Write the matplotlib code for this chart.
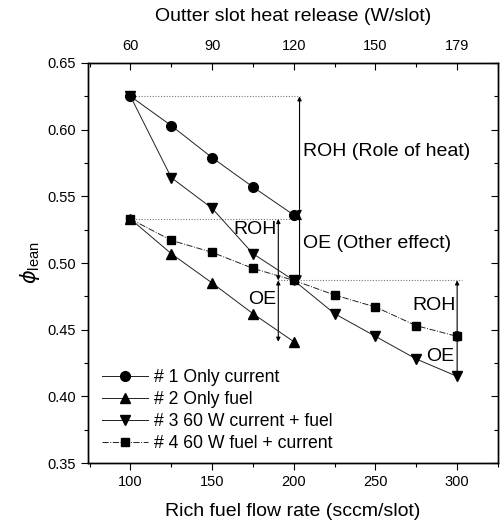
import matplotlib
matplotlib.use("Agg")
import matplotlib.pyplot as plt
from matplotlib.ticker import MultipleLocator, FixedLocator

plt.rcParams['font.family'] = ['Liberation Sans', 'DejaVu Sans']

# Data
fuel_1 = [100, 125, 150, 175, 200]
phi_1 = [0.625, 0.603, 0.579, 0.557, 0.536]
fuel_2 = [100, 125, 150, 175, 200]
phi_2 = [0.533, 0.507, 0.485, 0.462, 0.441]
fuel_3 = [100, 125, 150, 175, 200, 225, 250, 275, 300]
phi_3 = [0.625, 0.564, 0.541, 0.507, 0.487, 0.462, 0.445, 0.428, 0.415]
fuel_4 = [100, 125, 150, 175, 200, 225, 250, 275, 300]
phi_4 = [0.533, 0.517, 0.508, 0.496, 0.487, 0.476, 0.467, 0.453, 0.445]
labels = ["# 1 Only current", "# 2 Only fuel", "# 3 60 W current + fuel", "# 4 60 W fuel + current"]

top_tick_pos = [100, 150, 200, 250, 300]
top_tick_labels = ["60", "90", "120", "150", "179"]

fig = plt.figure(figsize=(5.03, 5.25), dpi=100)
ax = fig.add_axes([0.175, 0.118, 0.815, 0.762])

lw = 0.7
lc = '#222222'
ax.plot(fuel_1, phi_1, '-', color=lc, lw=lw, marker='o', ms=7, mfc='black', mec='black', label=labels[0], zorder=3)
ax.plot(fuel_2, phi_2, '-', color=lc, lw=lw, marker='^', ms=7, mfc='black', mec='black', label=labels[1], zorder=3)
ax.plot(fuel_3, phi_3, '-', color=lc, lw=lw, marker='v', ms=7, mfc='black', mec='black', label=labels[2], zorder=3)
ax.plot(fuel_4, phi_4, '-.', color=lc, lw=lw, marker='s', ms=6, mfc='black', mec='black', label=labels[3], zorder=3)

# dotted reference lines
dot = dict(color='#777777', lw=0.8, ls=(0, (1, 1.5)), zorder=1)
ax.plot([fuel_1[0], 203.5], [phi_1[0], phi_1[0]], **dot)
ax.plot([fuel_4[0], 200], [phi_4[0], phi_4[0]], **dot)
ax.plot([190.5, 303], [phi_3[4], phi_3[4]], **dot)

def darrow(x, y0, y1):
    ax.annotate('', xy=(x, y1), xytext=(x, y0),
                arrowprops=dict(arrowstyle='<|-|>', color='black', lw=0.8,
                                mutation_scale=6, shrinkA=0, shrinkB=0), zorder=2)

darrow(203.5, phi_1[0], phi_1[4])
darrow(203.5, phi_1[4], phi_3[4])
darrow(190.5, phi_4[0], phi_3[4])
darrow(190.5, phi_3[4], phi_2[4])
darrow(300, phi_3[4], phi_4[8])
darrow(300, phi_4[8], phi_3[8])

fs = 14
ax.text(205.5, 0.584, "ROH (Role of heat)", fontsize=fs, va='center', ha='left')
ax.text(205.5, 0.515, "OE (Other effect)", fontsize=fs, va='center', ha='left')
ax.text(189.5, 0.525, "ROH", fontsize=fs, va='center', ha='right')
ax.text(189.5, 0.473, "OE", fontsize=fs, va='center', ha='right')
ax.text(299, 0.468, "ROH", fontsize=fs, va='center', ha='right')
ax.text(298, 0.430, "OE", fontsize=fs, va='center', ha='right')

ax.set_xlim(74, 325)
ax.set_ylim(0.35, 0.65)
ax.xaxis.set_major_locator(MultipleLocator(50))
ax.xaxis.set_minor_locator(MultipleLocator(25))
ax.yaxis.set_major_locator(MultipleLocator(0.05))
ax.yaxis.set_minor_locator(MultipleLocator(0.025))
ax.yaxis.set_major_formatter(matplotlib.ticker.FormatStrFormatter('%.2f'))
ax.tick_params(axis='both', which='major', direction='out', length=5, width=0.8, labelsize=10.5)
ax.tick_params(axis='both', which='minor', direction='out', length=3, width=0.8)
ax.tick_params(axis='y', which='both', right=True)

ax.set_xlabel("Rich fuel flow rate (sccm/slot)", fontsize=14, labelpad=10)
ax.set_ylabel(r"$\phi_{\mathregular{lean}}$", fontsize=15, labelpad=4)

# right ticks inward
for t in ax.yaxis.get_major_ticks() + ax.yaxis.get_minor_ticks():
    t.tick2line.set_marker(matplotlib.lines.TICKLEFT)

ax2 = ax.twiny()
ax2.set_xlim(ax.get_xlim())
ax2.xaxis.set_major_locator(FixedLocator(top_tick_pos))
ax2.set_xticklabels(top_tick_labels)
ax2.xaxis.set_minor_locator(MultipleLocator(25))
ax2.tick_params(axis='x', which='major', direction='in', length=5, width=0.8, labelsize=10.5, pad=7)
ax2.tick_params(axis='x', which='minor', direction='in', length=3, width=0.8)
ax2.set_xlabel("Outter slot heat release (W/slot)", fontsize=14, labelpad=13)

for a in (ax, ax2):
    for s in a.spines.values():
        s.set_linewidth(1.0)

leg = ax.legend(loc='lower left', bbox_to_anchor=(0.005, -0.003), frameon=False,
                fontsize=12.7, handlelength=2.6, handletextpad=0.3, labelspacing=0.28,
                borderaxespad=0.3)

fig.savefig("out.png", dpi=100)
